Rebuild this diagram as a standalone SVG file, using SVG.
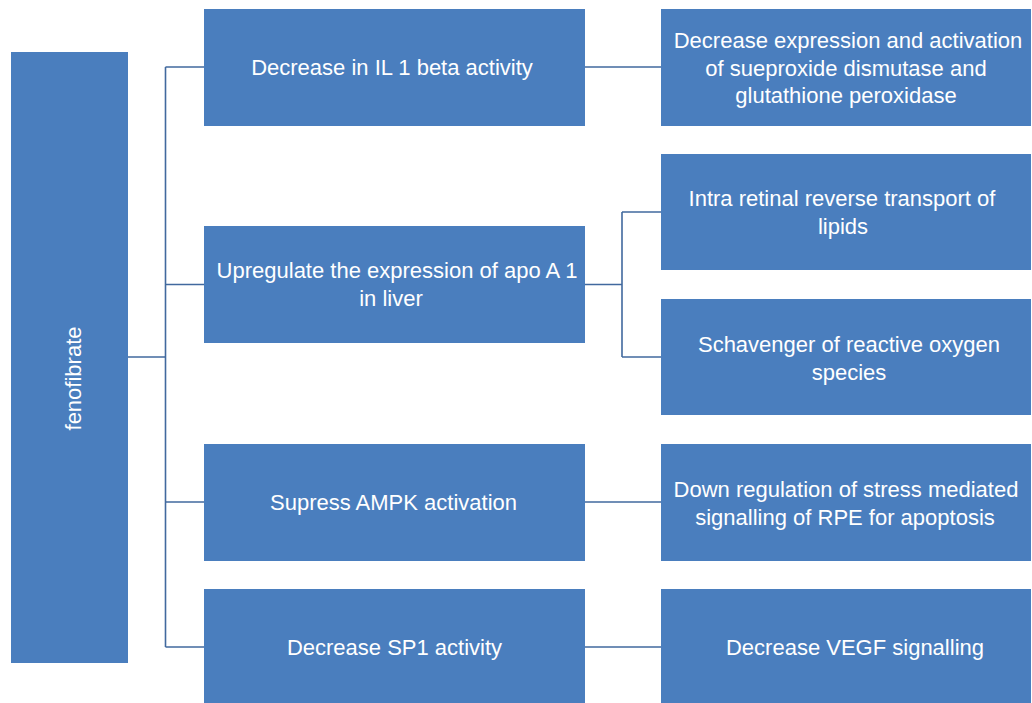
<svg xmlns="http://www.w3.org/2000/svg" width="1032" height="703" viewBox="0 0 1032 703">
<style>
.box{fill:#4a7ebe}
.t{fill:#ffffff;font-family:"Liberation Sans",Arial,sans-serif;font-size:22px;text-anchor:middle}
.c{fill:none;stroke:#41699e;stroke-width:1.6}
</style>
<rect width="1032" height="703" fill="#ffffff"/>
<g id="connectors">
<path class="c" d="M128 357H165.5M165.5 67V647M165.5 67H204M165.5 284.5H204M165.5 502H204M165.5 647H204"/>
<path class="c" d="M585 67H661"/>
<path class="c" d="M585 284.5H622M622 212V357M622 212H661M622 357H661"/>
<path class="c" d="M585 502H661"/>
<path class="c" d="M585 647H661"/>
</g>
<g id="fenofibrate">
<rect class="box" x="11" y="52" width="117" height="611"/>
<text class="t" transform="translate(81 378.5) rotate(-90)" x="0" y="0">fenofibrate</text>
</g>
<g id="il1beta">
<rect class="box" x="204" y="9" width="381" height="117"/>
<text class="t" x="392" y="75">Decrease in IL 1 beta activity</text>
</g>
<g id="apoa1">
<rect class="box" x="204" y="226" width="381" height="117"/>
<text class="t" x="397" y="278">Upregulate the expression of apo A 1</text>
<text class="t" x="391" y="306">in liver</text>
</g>
<g id="ampk">
<rect class="box" x="204" y="444" width="381" height="117"/>
<text class="t" x="393.5" y="510">Supress AMPK activation</text>
</g>
<g id="sp1">
<rect class="box" x="204" y="589" width="381" height="114"/>
<text class="t" x="394.5" y="655">Decrease SP1 activity</text>
</g>
<g id="sod">
<rect class="box" x="661" y="9" width="370" height="117"/>
<text class="t" x="848" y="48">Decrease expression and activation</text>
<text class="t" x="846" y="76">of sueproxide dismutase and</text>
<text class="t" x="846" y="103">glutathione peroxidase</text>
</g>
<g id="lipids">
<rect class="box" x="661" y="154" width="370" height="116"/>
<text class="t" x="842" y="206">Intra retinal reverse transport of</text>
<text class="t" x="843" y="234">lipids</text>
</g>
<g id="ros">
<rect class="box" x="661" y="299" width="370" height="116"/>
<text class="t" x="849" y="352">Schavenger of reactive oxygen</text>
<text class="t" x="849" y="380">species</text>
</g>
<g id="rpe">
<rect class="box" x="661" y="444" width="370" height="117"/>
<text class="t" x="846" y="497">Down regulation of stress mediated</text>
<text class="t" x="845" y="525">signalling of RPE for apoptosis</text>
</g>
<g id="vegf">
<rect class="box" x="661" y="589" width="370" height="114"/>
<text class="t" x="855" y="655">Decrease VEGF signalling</text>
</g>
</svg>
